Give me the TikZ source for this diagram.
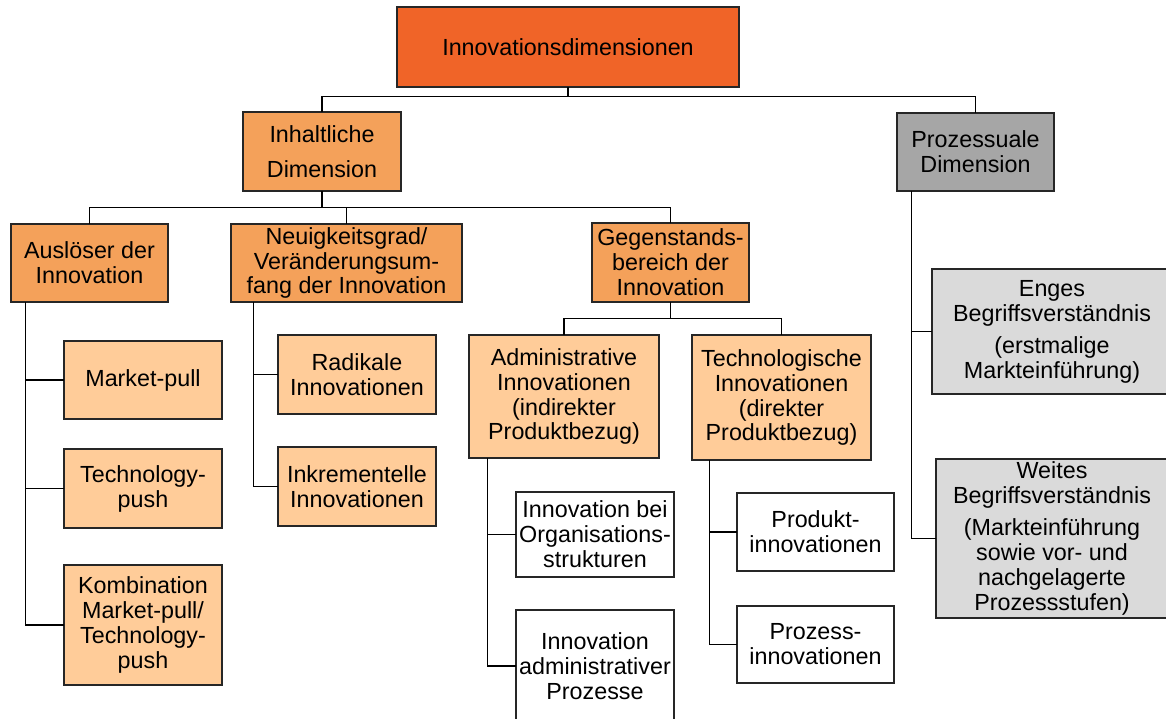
\documentclass[tikz,border=0pt]{standalone}
\usepackage{fontspec}
\setmainfont{Liberation Sans}
\usepackage{tikz}

\begin{document}
\begin{tikzpicture}
		[x=0.3mm,y=-0.3mm,line cap=rect,
		%Styles
		box/.style={draw=black!85,line width=1.1pt,inner sep=0pt,align=center,
			font=\fontsize{19.9}{21.3}\selectfont},
		wh/.style 2 args={minimum width=#1*0.3mm,minimum height=#2*0.3mm},
		main box/.style={box,fill=topcolor},
		dimension box/.style={box,fill=dimcolor},
		item box/.style={box,fill=itemcolor},
		leaf box/.style={box,fill=white},
		process box/.style={box,fill=proccolor},
		process item/.style={box,fill=procitemcolor},
		connector/.style={draw=black,line width=1.2pt}
		]
		
		%Colors
		\definecolor{topcolor}{HTML}{F06428}
		\definecolor{dimcolor}{HTML}{F4A15A}
		\definecolor{itemcolor}{HTML}{FFCC99}
		\definecolor{proccolor}{HTML}{A6A6A6}
		\definecolor{procitemcolor}{HTML}{DADADA}
		
		\clip (0,0) rectangle (1166,718);
		
		%Top levels
		\node[main box,wh={342}{80}] (top) at (568,47) {Innovationsdimensionen};
		\node[dimension box,wh={158}{79}] (inh) at (322,151.5) {Inhaltliche\\[8.5pt]Dimension};
		\node[process box,wh={157}{78}] (proz) at (975.5,152) {Prozessuale\\Dimension};
		
		\node[dimension box,wh={157}{78}] (ausl) at (89.5,263) {Auslöser der\\Innovation};
		\node[dimension box,wh={231}{78}] (neu) at (346.5,263) {Neuigkeitsgrad/\\Veränderungsum-\\fang der Innovation};
		\node[dimension box,wh={157}{79}] (geg) at (670.5,262.5) {Gegenstands-\\bereich der\\Innovation};
		
		%Ausloeser
		\node[item box,wh={158}{78}] (mpull) at (143,380) {Market-pull};
		\node[item box,wh={158}{79}] (tpush) at (143,488.5) {Technology-\\push};
		\node[item box,wh={158}{120}] (komb) at (143,625) {Kombination\\Market-pull/\\Technology-\\push};
		
		%Neuigkeitsgrad
		\node[item box,wh={158}{79}] (radi) at (357,374.5) {Radikale\\Innovationen};
		\node[item box,wh={158}{79}] (inkr) at (357,486.5) {Inkrementelle\\Innovationen};
		
		%Gegenstandsbereich
		\node[item box,wh={190}{123}] (admin) at (564,396.5) {Administrative\\Innovationen\\(indirekter\\Produktbezug)};
		\node[item box,wh={179}{125}] (tech) at (781.5,397.5) {Technologische\\Innovationen\\(direkter\\Produktbezug)};
		\node[leaf box,wh={158}{85}] (orga) at (595,534.5) {Innovation bei\\Organisations-\\strukturen};
		\node[leaf box,wh={158}{112}] (adproz) at (595,666) {Innovation\\administrativer\\Prozesse};
		\node[leaf box,wh={157}{78}] (prod) at (815.5,532) {Produkt-\\innovationen};
		\node[leaf box,wh={157}{77}] (prozinno) at (815.5,644.5) {Prozess-\\innovationen};
		
		%Prozessuale Dimension
		\node[process item,wh={240}{125}] (enges) at (1052,331.5) {Enges\\Begriffsverständnis\\[6pt](erstmalige\\Markteinführung)};
		\node[process item,wh={232}{159}] (weites) at (1052,538.5) {Weites\\Begriffsverständnis\\[6pt](Markteinführung\\sowie vor- und\\nachgelagerte\\Prozessstufen)};
		
		%The connectors
		\draw[connector] (top.south) -- ++(0,9) -| (inh.north);
		\draw[connector] (top.south) -- ++(0,9) -| (proz.north);
		\draw[connector] (inh.south) -- ++(0,16) -| (ausl.north);
		\draw[connector] (inh.south) -- ++(0,16) -| (neu.north);
		\draw[connector] (inh.south) -- ++(0,16) -| (geg.north);
		\draw[connector] (geg.south) -- ++(0,16) -| (admin.north);
		\draw[connector] (geg.south) -- ++(0,16) -| (tech.north);
		
		\draw[connector] ([xshift=4.5mm]ausl.south west) |- (mpull.west);
		\draw[connector] ([xshift=4.5mm]ausl.south west) |- (tpush.west);
		\draw[connector] ([xshift=4.5mm]ausl.south west) |- (komb.west);
		\draw[connector] ([xshift=6.9mm]neu.south west) |- (radi.west);
		\draw[connector] ([xshift=6.9mm]neu.south west) |- (inkr.west);
		\draw[connector] ([xshift=5.7mm]admin.south west) |- (orga.west);
		\draw[connector] ([xshift=5.7mm]admin.south west) |- (adproz.west);
		\draw[connector] ([xshift=5.4mm]tech.south west) |- (prod.west);
		\draw[connector] ([xshift=5.4mm]tech.south west) |- (prozinno.west);
		\draw[connector] ([xshift=4.5mm]proz.south west) |- (enges.west);
		\draw[connector] ([xshift=4.5mm]proz.south west) |- (weites.west);
	\end{tikzpicture}
\end{document}
